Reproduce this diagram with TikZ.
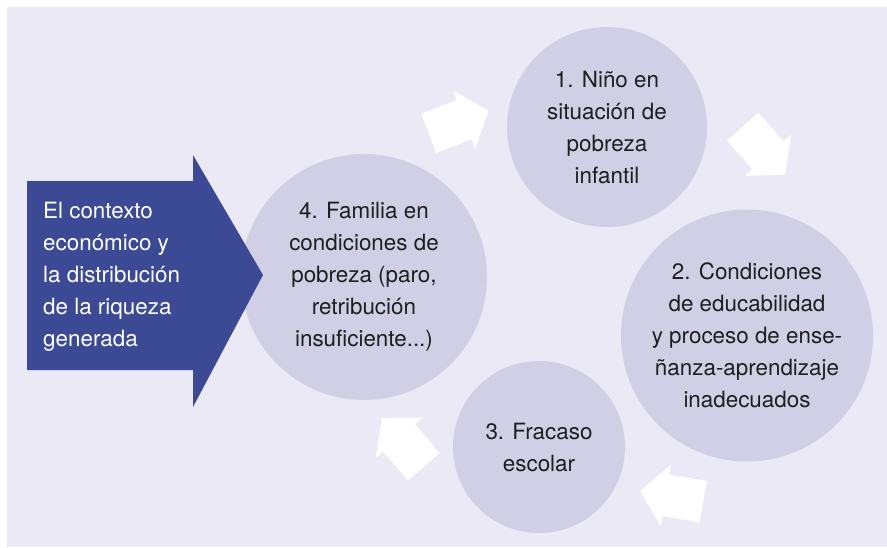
\documentclass[tikz,border=0pt]{standalone}
\usepackage{fontspec}
\setmainfont{TeX Gyre Heros}
\definecolor{bglav}{RGB}{235,233,245}
\definecolor{circlav}{RGB}{209,207,229}
\definecolor{navy}{RGB}{60,74,150}
\definecolor{txt}{RGB}{30,30,30}
\begin{document}
\begin{tikzpicture}[x=1pt,y=-1pt,
  txtfont/.style={font=\fontsize{22.4}{32}\selectfont},
  stage/.style={circle,fill=circlav,inner sep=0pt,align=center,txtfont,text=txt},
  blockarr/.pic={\fill[white] (0,-21) -- (38,-21) -- (38,-31) -- (64,0) -- (38,31) -- (38,21) -- (0,21) -- cycle;}
]
\useasboundingbox (0,0) rectangle (887,547);
\fill[bglav] (7,7) rectangle (887,547);

\node[stage,minimum size=200pt] (c1) at (607,127) {1. Niño en\\situación de\\pobreza\\infantil};
\node[stage,minimum size=252pt] (c2) at (747,335.5) {2. Condiciones\\de educabilidad\\y proceso de ense-\\ñanza-aprendizaje\\inadecuados};
\node[stage,minimum size=172pt] (c3) at (539,447) {3. Fracaso\\escolar};
\node[stage,minimum size=246pt] (c4) at (364,277) {4. Familia en\\condiciones de\\pobreza (paro,\\retribución\\insuficiente...)};

\fill[navy] (27,181) -- (193,181) -- (193,155) -- (263,275) -- (193,407) -- (193,370) -- (27,370) -- cycle;
\node[anchor=west,align=left,txtfont,text=white,inner sep=0pt] (ctx) at (43,277) {El contexto\\económico y\\la distribución\\de la riqueza\\generada};

\pic[rotate=20.8] at (428.7,133.3) {blockarr};
\pic[rotate=-48.5] at (742.7,126.7) {blockarr};
\pic[rotate=170.3] at (703.2,501.7) {blockarr};
\pic[rotate=130.7] at (423.8,466.7) {blockarr};
\end{tikzpicture}
\end{document}
